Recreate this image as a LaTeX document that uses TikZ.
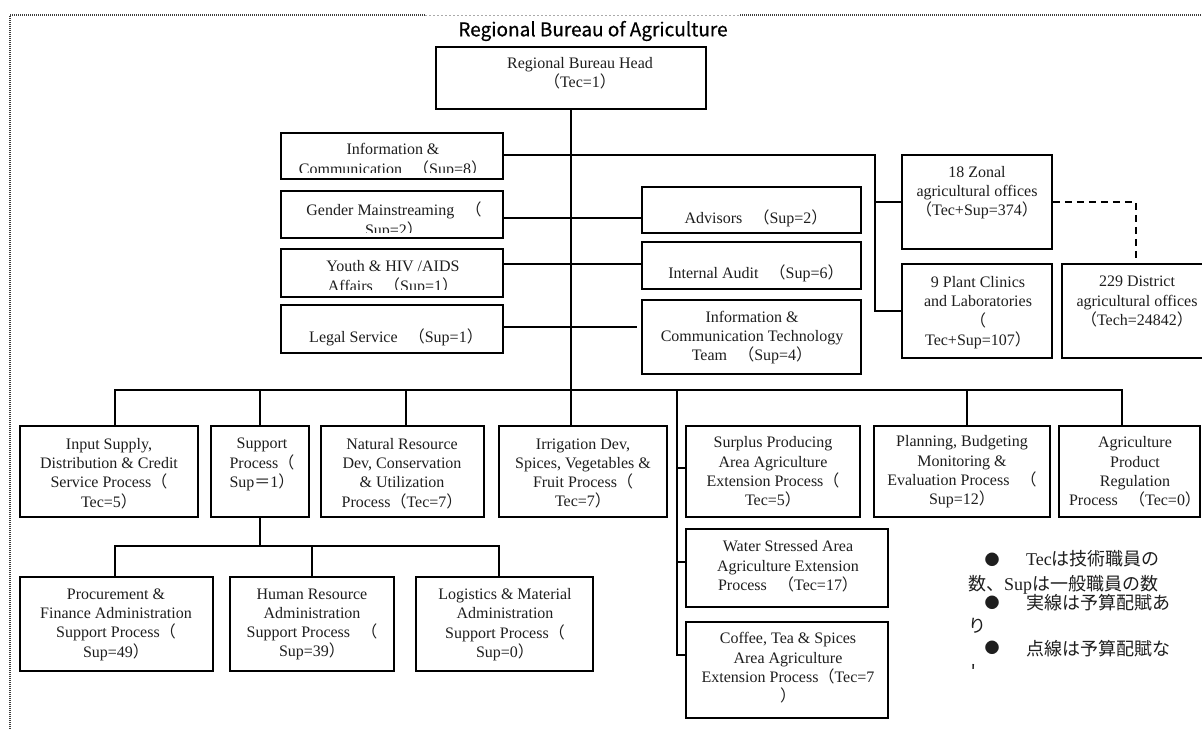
\documentclass[tikz,border=0pt]{standalone}
\usepackage{fontspec}
\setmainfont{Liberation Serif}
\newfontfamily\cjkf{Noto Sans CJK JP}
\newfontfamily\titlef[FakeBold=0.5]{Noto Sans CJK JP}
\usetikzlibrary{fit}
\definecolor{ink}{RGB}{30,30,30}
\definecolor{framegray}{RGB}{60,60,60}
\definecolor{lightgraytwo}{RGB}{170,170,170}
\newcommand{\jlp}{{\cjkf （}}
\newcommand{\jrp}{{\cjkf ）}}
\newcommand{\jeq}{{\cjkf ＝}}
\newcommand{\jsp}{\hspace*{0.7em}}
\newcommand{\jp}[1]{{\cjkf #1}}
\newcommand{\bx}[5]{\node[box, fit={(#2,#3) (#4,#5)}] (#1) {};}
\begin{document}
\begin{tikzpicture}[x=1pt,y=-1pt,
  box/.style={draw=black, line width=1.6pt, inner sep=0pt},
  txt/.style={align=center, inner sep=0pt, font=\fontsize{16}{19.3}\selectfont, text=ink},
  txtc/.style={align=center, inner sep=0pt, font=\fontsize{16}{20}\selectfont, text=ink},
  leg/.style={inner sep=0pt, font=\fontsize{18}{20}\selectfont, text=ink},
  bul/.style={inner sep=0pt, font=\fontsize{15}{16}\selectfont, text=ink},
  conn/.style={draw=black, line width=1.5pt},
  thickconn/.style={draw=black, line width=2.2pt},
  dconn/.style={draw=black, line width=1.6pt, dash pattern=on 7pt off 5pt},
  frameline/.style={draw=framegray, line width=1.1pt, dash pattern=on 1pt off 1pt},
  framelight/.style={draw=lightgraytwo, line width=0.6pt, dash pattern=on 2pt off 2pt},
  ttl/.style={inner sep=0pt, font=\titlef\fontsize{19}{22}\selectfont, text=black}
]
\useasboundingbox (0,0) rectangle (1202,729);
\fill[white] (0,0) rectangle (1202,729);
% frame
\draw[frameline] (10,729) -- (10,15) -- (425,15);
\draw[framelight] (425,15) -- (740,15);
\draw[frameline] (740,15) -- (1202,15);
% title
\node[ttl] (title) at (593,31) {Regional Bureau of Agriculture};
% boxes
\bx{head}{436}{47}{706}{109}
\bx{info}{281}{133}{503}{179}
\bx{gender}{281}{191}{503}{238}
\bx{youth}{281}{249}{503}{297}
\bx{legal}{281}{305}{503}{353}
\bx{advisors}{642}{187}{861}{233}
\bx{audit}{642}{242}{861}{289}
\bx{ict}{642}{300}{861}{374}
\bx{zonal}{902}{155}{1052}{249}
\bx{plant}{902}{264}{1052}{358}
\bx{district}{1062}{264}{1210}{358}
\bx{input}{20}{426}{198}{517}
\bx{support}{211}{426}{309}{517}
\bx{natres}{321}{426}{484}{517}
\bx{irrig}{499}{426}{667}{517}
\bx{surplus}{686}{426}{860}{517}
\bx{planning}{874}{426}{1050}{517}
\bx{agri}{1059}{426}{1200}{517}
\bx{procure}{20}{577}{213}{671}
\bx{hr}{230}{577}{394}{671}
\bx{logis}{416}{577}{593}{671}
\bx{water}{686}{529}{888}{607}
\bx{coffee}{686}{622}{888}{718}
% texts
\node[txt] (headT) at (580,73.5) {Regional Bureau Head\\\jlp Tec=1\jrp};
\begin{scope}
\clip (281,133) rectangle (503,172);
\node[txtc] (infoT) at (393,161) {Information \&\\Communication\jsp\jlp Sup=8\jrp};
\end{scope}
\begin{scope}
\clip (281,191) rectangle (503,232.5);
\node[txtc] (genderT) at (394,220.5) {Gender Mainstreaming\jsp\jlp\\Sup=2\jrp};
\end{scope}
\begin{scope}
\clip (281,249) rectangle (503,289);
\node[txtc] (youthT) at (393,277.5) {Youth \& HIV /AIDS\\Affairs\jsp\jlp Sup=1\jrp};
\end{scope}
\node[txt] (legalT) at (396,337) {Legal Service\jsp\jlp Sup=1\jrp};
\node[txt] (advisorsT) at (756,218) {Advisors\jsp\jlp Sup=2\jrp};
\node[txt] (auditT) at (756,273) {Internal Audit\jsp\jlp Sup=6\jrp};
\node[txt] (ictT) at (752,337.5) {Information \&\\Communication Technology\\Team\jsp\jlp Sup=4\jrp};
\node[txt] (zonalT) at (977,192.5) {18 Zonal\\agricultural offices\\\jlp Tec+Sup=374\jrp};
\node[txt] (plantT) at (978,312.5) {9 Plant Clinics\\and Laboratories\\\jlp\\Tec+Sup=107\jrp};
\node[txt] (districtT) at (1137,301.5) {229 District\\agricultural offices\\\jlp Tech=24842\jrp};
\node[txt] (inputT) at (109,473.5) {Input Supply,\\Distribution \& Credit\\Service Process\jlp\\Tec=5\jrp};
\node[txt] (supportT) at (262,464.5) {Support\\Process\jlp\\Sup\jeq 1\jrp};
\node[txt] (natresT) at (402,473.5) {Natural Resource\\Dev, Conservation\\\& Utilization\\Process\jlp Tec=7\jrp};
\node[txt] (irrigT) at (583,473.5) {Irrigation Dev,\\Spices, Vegetables \&\\Fruit Process\jlp\\Tec=7\jrp};
\node[txt] (surplusT) at (773,472) {Surplus Producing\\Area Agriculture\\Extension Process\jlp\\Tec=5\jrp};
\node[txt] (planningT) at (962,472) {Planning, Budgeting\\Monitoring \&\\Evaluation Process\jsp\jlp\\Sup=12\jrp};
\node[txt] (agriT) at (1135,472) {Agriculture\\Product\\Regulation\\Process\jsp\jlp Tec=0\jrp};
\node[txt] (procureT) at (116,624.5) {Procurement \&\\Finance Administration\\Support Process\jlp\\Sup=49\jrp};
\node[txt] (hrT) at (312,624.5) {Human Resource\\Administration\\Support Process\jsp\jlp\\Sup=39\jrp};
\node[txt] (logisT) at (505,624.5) {Logistics \& Material\\Administration\\Support Process\jlp\\Sup=0\jrp};
\node[txt] (waterT) at (788,566.5) {Water Stressed Area\\Agriculture Extension\\Process\jsp\jlp Tec=17\jrp};
\node[txt] (coffeeT) at (788,668) {Coffee, Tea \& Spices\\Area Agriculture\\Extension Process\jlp Tec=7\\\jrp};
% legend
\node[bul] (b1) at (992,560) {\jp{●}};
\node[leg, anchor=base west] (l1) at (1026,565) {Tec\jp{は技術職員の}};
\node[leg, anchor=base west] (l2) at (968,590) {\jp{数、}Sup\jp{は一般職員の数}};
\node[bul] (b2) at (992,603) {\jp{●}};
\node[leg, anchor=base west] (l3) at (1026,609) {\jp{実線は予算配賦あ}};
\node[leg, anchor=base west] (l4) at (968,632) {\jp{り}};
\node[bul] (b3) at (992,648) {\jp{●}};
\node[leg, anchor=base west] (l5) at (1026,655) {\jp{点線は予算配賦な}};
\begin{scope}
\clip (960,655) rectangle (1000,668);
\node[leg, anchor=base west] (l6) at (968,678) {\jp{し}};
\end{scope}
% connectors
\coordinate (busL) at (115,390);
\coordinate (busR) at (1122,390);
\coordinate (bSup) at (260,390);
\coordinate (bNat) at (406,390);
\coordinate (bPlan) at (967,390);
\coordinate (v) at (677,390);
\draw[conn] (head.south) -- (irrig.north -| head.south);
\draw[thickconn] (busL |- input.north) -- (busL) -- (bSup);
\draw[conn] (bSup) -- (busR) -- (busR |- agri.north);
\draw[conn] (bSup) -- (support.north);
\draw[conn] (bNat) -- (bNat |- natres.north);
\draw[conn] (bPlan) -- (bPlan |- planning.north);
% support sub-tree
\coordinate (sbL) at (115,546);
\coordinate (sbR) at (499,546);
\draw[conn] (support.south) -- (support.south |- sbL);
\draw[conn] (sbL |- procure.north) -- (sbL) -- (sbR) -- (sbR |- logis.north);
\draw[conn] (hr.north) -- (hr.north |- sbL);
% extension processes
\coordinate (vS) at (677,468);
\coordinate (vW) at (677,562);
\coordinate (vC) at (677,655);
\draw[conn] (v) -- (vC) -- (vC -| coffee.west);
\draw[conn] (vS) -- (vS -| surplus.west);
\draw[conn] (vW) -- (vW -| water.west);
% staff lines
\coordinate (zt) at (875,155);
\coordinate (yG) at (0,218);
\coordinate (yY) at (0,264);
\coordinate (yL) at (0,327);
\draw[conn] (info.east |- zt) -- (zt) -- (zt |- plant.west) -- (plant.west);
\draw[conn] (zt |- zonal.west) -- (zonal.west);
\draw[conn] (gender.east |- yG) -- (advisors.west |- yG);
\draw[conn] (youth.east |- yY) -- (audit.west |- yY);
\draw[conn, shorten >=4pt] (legal.east |- yL) -- (ict.west |- yL);
\draw[dconn] (zonal.east) -| (district.north);
\end{tikzpicture}
\end{document}
